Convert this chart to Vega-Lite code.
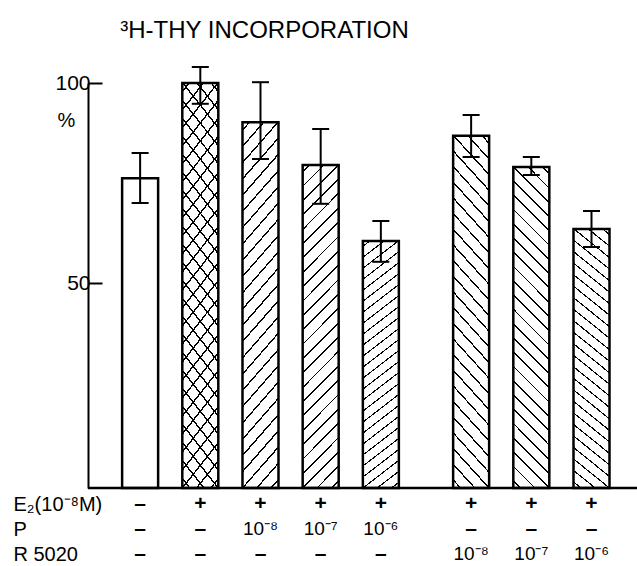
{
  "$schema": "https://vega.github.io/schema/vega-lite/v6.json",
  "width": 549,
  "height": 405,
  "autosize": {"type": "none"},
  "padding": {"left": 88, "top": 83, "right": 0, "bottom": 78},
  "background": "white",
  "config": {"view": {"stroke": null}, "font": "Liberation Sans"},
  "title": {"text": "³H-THY INCORPORATION", "anchor": "middle", "frame": "group", "dx": -98, "offset": 23, "fontSize": 24, "fontWeight": "normal", "font": "Liberation Sans", "color": "black"},
  "data": {"values": [
    {"pos": 0, "val": 76.2, "lo": 70, "hi": 82.5, "treatment": "control", "E2": "–", "P": "–", "R5020": "–"},
    {"pos": 1, "val": 100, "lo": 94.8, "hi": 104, "treatment": "E2", "E2": "+", "P": "–", "R5020": "–"},
    {"pos": 2, "val": 90.2, "lo": 81, "hi": 100.2, "treatment": "E2+P", "E2": "+", "P": "10⁻⁸", "R5020": "–"},
    {"pos": 3, "val": 79.5, "lo": 69.8, "hi": 88.5, "treatment": "E2+P", "E2": "+", "P": "10⁻⁷", "R5020": "–"},
    {"pos": 4, "val": 60.5, "lo": 55.3, "hi": 65.5, "treatment": "E2+P", "E2": "+", "P": "10⁻⁶", "R5020": "–"},
    {"pos": 5.5, "val": 86.8, "lo": 81.5, "hi": 92, "treatment": "E2+R5020", "E2": "+", "P": "–", "R5020": "10⁻⁸"},
    {"pos": 6.5, "val": 79, "lo": 77, "hi": 81.5, "treatment": "E2+R5020", "E2": "+", "P": "–", "R5020": "10⁻⁷"},
    {"pos": 7.5, "val": 63.5, "lo": 59, "hi": 68, "treatment": "E2+R5020", "E2": "+", "P": "–", "R5020": "10⁻⁶"}
  ]},
  "layer": [
    {
      "transform": [{"filter": "datum.treatment === 'E2+P' || datum.treatment === 'E2'"}],
      "mark": {"type": "bar", "width": 36, "strokeWidth": 0, "fill": {"gradient": "linear", "x1": 0, "y1": 0, "x2": 0.1234, "y2": 1.098, "stops": [
        {"offset": 0.017, "color": "rgba(0,0,0,0)"}, {"offset": 0.017, "color": "#000"}, {"offset": 0.022, "color": "#000"}, {"offset": 0.022, "color": "rgba(0,0,0,0)"},
        {"offset": 0.057, "color": "rgba(0,0,0,0)"}, {"offset": 0.057, "color": "#000"}, {"offset": 0.062, "color": "#000"}, {"offset": 0.062, "color": "rgba(0,0,0,0)"},
        {"offset": 0.097, "color": "rgba(0,0,0,0)"}, {"offset": 0.097, "color": "#000"}, {"offset": 0.102, "color": "#000"}, {"offset": 0.102, "color": "rgba(0,0,0,0)"},
        {"offset": 0.137, "color": "rgba(0,0,0,0)"}, {"offset": 0.137, "color": "#000"}, {"offset": 0.142, "color": "#000"}, {"offset": 0.142, "color": "rgba(0,0,0,0)"},
        {"offset": 0.177, "color": "rgba(0,0,0,0)"}, {"offset": 0.177, "color": "#000"}, {"offset": 0.182, "color": "#000"}, {"offset": 0.182, "color": "rgba(0,0,0,0)"},
        {"offset": 0.217, "color": "rgba(0,0,0,0)"}, {"offset": 0.217, "color": "#000"}, {"offset": 0.222, "color": "#000"}, {"offset": 0.222, "color": "rgba(0,0,0,0)"},
        {"offset": 0.257, "color": "rgba(0,0,0,0)"}, {"offset": 0.257, "color": "#000"}, {"offset": 0.262, "color": "#000"}, {"offset": 0.262, "color": "rgba(0,0,0,0)"},
        {"offset": 0.297, "color": "rgba(0,0,0,0)"}, {"offset": 0.297, "color": "#000"}, {"offset": 0.302, "color": "#000"}, {"offset": 0.302, "color": "rgba(0,0,0,0)"},
        {"offset": 0.337, "color": "rgba(0,0,0,0)"}, {"offset": 0.337, "color": "#000"}, {"offset": 0.342, "color": "#000"}, {"offset": 0.342, "color": "rgba(0,0,0,0)"},
        {"offset": 0.377, "color": "rgba(0,0,0,0)"}, {"offset": 0.377, "color": "#000"}, {"offset": 0.382, "color": "#000"}, {"offset": 0.382, "color": "rgba(0,0,0,0)"},
        {"offset": 0.417, "color": "rgba(0,0,0,0)"}, {"offset": 0.417, "color": "#000"}, {"offset": 0.422, "color": "#000"}, {"offset": 0.422, "color": "rgba(0,0,0,0)"},
        {"offset": 0.457, "color": "rgba(0,0,0,0)"}, {"offset": 0.457, "color": "#000"}, {"offset": 0.462, "color": "#000"}, {"offset": 0.462, "color": "rgba(0,0,0,0)"},
        {"offset": 0.497, "color": "rgba(0,0,0,0)"}, {"offset": 0.497, "color": "#000"}, {"offset": 0.502, "color": "#000"}, {"offset": 0.502, "color": "rgba(0,0,0,0)"},
        {"offset": 0.537, "color": "rgba(0,0,0,0)"}, {"offset": 0.537, "color": "#000"}, {"offset": 0.542, "color": "#000"}, {"offset": 0.542, "color": "rgba(0,0,0,0)"},
        {"offset": 0.577, "color": "rgba(0,0,0,0)"}, {"offset": 0.577, "color": "#000"}, {"offset": 0.582, "color": "#000"}, {"offset": 0.582, "color": "rgba(0,0,0,0)"},
        {"offset": 0.617, "color": "rgba(0,0,0,0)"}, {"offset": 0.617, "color": "#000"}, {"offset": 0.622, "color": "#000"}, {"offset": 0.622, "color": "rgba(0,0,0,0)"},
        {"offset": 0.657, "color": "rgba(0,0,0,0)"}, {"offset": 0.657, "color": "#000"}, {"offset": 0.662, "color": "#000"}, {"offset": 0.662, "color": "rgba(0,0,0,0)"},
        {"offset": 0.697, "color": "rgba(0,0,0,0)"}, {"offset": 0.697, "color": "#000"}, {"offset": 0.702, "color": "#000"}, {"offset": 0.702, "color": "rgba(0,0,0,0)"},
        {"offset": 0.737, "color": "rgba(0,0,0,0)"}, {"offset": 0.737, "color": "#000"}, {"offset": 0.742, "color": "#000"}, {"offset": 0.742, "color": "rgba(0,0,0,0)"},
        {"offset": 0.777, "color": "rgba(0,0,0,0)"}, {"offset": 0.777, "color": "#000"}, {"offset": 0.782, "color": "#000"}, {"offset": 0.782, "color": "rgba(0,0,0,0)"},
        {"offset": 0.817, "color": "rgba(0,0,0,0)"}, {"offset": 0.817, "color": "#000"}, {"offset": 0.822, "color": "#000"}, {"offset": 0.822, "color": "rgba(0,0,0,0)"},
        {"offset": 0.857, "color": "rgba(0,0,0,0)"}, {"offset": 0.857, "color": "#000"}, {"offset": 0.862, "color": "#000"}, {"offset": 0.862, "color": "rgba(0,0,0,0)"},
        {"offset": 0.897, "color": "rgba(0,0,0,0)"}, {"offset": 0.897, "color": "#000"}, {"offset": 0.902, "color": "#000"}, {"offset": 0.902, "color": "rgba(0,0,0,0)"},
        {"offset": 0.937, "color": "rgba(0,0,0,0)"}, {"offset": 0.937, "color": "#000"}, {"offset": 0.942, "color": "#000"}, {"offset": 0.942, "color": "rgba(0,0,0,0)"},
        {"offset": 0.977, "color": "rgba(0,0,0,0)"}, {"offset": 0.977, "color": "#000"}, {"offset": 0.982, "color": "#000"}, {"offset": 0.982, "color": "rgba(0,0,0,0)"}
      ]}},
      "encoding": {
        "x": {"field": "pos", "type": "quantitative", "scale": {"domain": [-0.783, 8.173], "nice": false, "zero": false}, "axis": null},
        "y": {"field": "val", "type": "quantitative", "scale": {"domain": [-1.25, 100], "nice": false, "zero": false}, "axis": null},
        "y2": {"datum": -1.25}
      }
    },
    {
      "transform": [{"filter": "datum.treatment === 'E2+R5020' || datum.treatment === 'E2'"}],
      "mark": {"type": "bar", "width": 36, "strokeWidth": 0, "fill": {"gradient": "linear", "x1": 1, "y1": 0, "x2": 0.8766, "y2": 1.098, "stops": [
        {"offset": 0.017, "color": "rgba(0,0,0,0)"}, {"offset": 0.017, "color": "#000"}, {"offset": 0.022, "color": "#000"}, {"offset": 0.022, "color": "rgba(0,0,0,0)"},
        {"offset": 0.057, "color": "rgba(0,0,0,0)"}, {"offset": 0.057, "color": "#000"}, {"offset": 0.062, "color": "#000"}, {"offset": 0.062, "color": "rgba(0,0,0,0)"},
        {"offset": 0.097, "color": "rgba(0,0,0,0)"}, {"offset": 0.097, "color": "#000"}, {"offset": 0.102, "color": "#000"}, {"offset": 0.102, "color": "rgba(0,0,0,0)"},
        {"offset": 0.137, "color": "rgba(0,0,0,0)"}, {"offset": 0.137, "color": "#000"}, {"offset": 0.142, "color": "#000"}, {"offset": 0.142, "color": "rgba(0,0,0,0)"},
        {"offset": 0.177, "color": "rgba(0,0,0,0)"}, {"offset": 0.177, "color": "#000"}, {"offset": 0.182, "color": "#000"}, {"offset": 0.182, "color": "rgba(0,0,0,0)"},
        {"offset": 0.217, "color": "rgba(0,0,0,0)"}, {"offset": 0.217, "color": "#000"}, {"offset": 0.222, "color": "#000"}, {"offset": 0.222, "color": "rgba(0,0,0,0)"},
        {"offset": 0.257, "color": "rgba(0,0,0,0)"}, {"offset": 0.257, "color": "#000"}, {"offset": 0.262, "color": "#000"}, {"offset": 0.262, "color": "rgba(0,0,0,0)"},
        {"offset": 0.297, "color": "rgba(0,0,0,0)"}, {"offset": 0.297, "color": "#000"}, {"offset": 0.302, "color": "#000"}, {"offset": 0.302, "color": "rgba(0,0,0,0)"},
        {"offset": 0.337, "color": "rgba(0,0,0,0)"}, {"offset": 0.337, "color": "#000"}, {"offset": 0.342, "color": "#000"}, {"offset": 0.342, "color": "rgba(0,0,0,0)"},
        {"offset": 0.377, "color": "rgba(0,0,0,0)"}, {"offset": 0.377, "color": "#000"}, {"offset": 0.382, "color": "#000"}, {"offset": 0.382, "color": "rgba(0,0,0,0)"},
        {"offset": 0.417, "color": "rgba(0,0,0,0)"}, {"offset": 0.417, "color": "#000"}, {"offset": 0.422, "color": "#000"}, {"offset": 0.422, "color": "rgba(0,0,0,0)"},
        {"offset": 0.457, "color": "rgba(0,0,0,0)"}, {"offset": 0.457, "color": "#000"}, {"offset": 0.462, "color": "#000"}, {"offset": 0.462, "color": "rgba(0,0,0,0)"},
        {"offset": 0.497, "color": "rgba(0,0,0,0)"}, {"offset": 0.497, "color": "#000"}, {"offset": 0.502, "color": "#000"}, {"offset": 0.502, "color": "rgba(0,0,0,0)"},
        {"offset": 0.537, "color": "rgba(0,0,0,0)"}, {"offset": 0.537, "color": "#000"}, {"offset": 0.542, "color": "#000"}, {"offset": 0.542, "color": "rgba(0,0,0,0)"},
        {"offset": 0.577, "color": "rgba(0,0,0,0)"}, {"offset": 0.577, "color": "#000"}, {"offset": 0.582, "color": "#000"}, {"offset": 0.582, "color": "rgba(0,0,0,0)"},
        {"offset": 0.617, "color": "rgba(0,0,0,0)"}, {"offset": 0.617, "color": "#000"}, {"offset": 0.622, "color": "#000"}, {"offset": 0.622, "color": "rgba(0,0,0,0)"},
        {"offset": 0.657, "color": "rgba(0,0,0,0)"}, {"offset": 0.657, "color": "#000"}, {"offset": 0.662, "color": "#000"}, {"offset": 0.662, "color": "rgba(0,0,0,0)"},
        {"offset": 0.697, "color": "rgba(0,0,0,0)"}, {"offset": 0.697, "color": "#000"}, {"offset": 0.702, "color": "#000"}, {"offset": 0.702, "color": "rgba(0,0,0,0)"},
        {"offset": 0.737, "color": "rgba(0,0,0,0)"}, {"offset": 0.737, "color": "#000"}, {"offset": 0.742, "color": "#000"}, {"offset": 0.742, "color": "rgba(0,0,0,0)"},
        {"offset": 0.777, "color": "rgba(0,0,0,0)"}, {"offset": 0.777, "color": "#000"}, {"offset": 0.782, "color": "#000"}, {"offset": 0.782, "color": "rgba(0,0,0,0)"},
        {"offset": 0.817, "color": "rgba(0,0,0,0)"}, {"offset": 0.817, "color": "#000"}, {"offset": 0.822, "color": "#000"}, {"offset": 0.822, "color": "rgba(0,0,0,0)"},
        {"offset": 0.857, "color": "rgba(0,0,0,0)"}, {"offset": 0.857, "color": "#000"}, {"offset": 0.862, "color": "#000"}, {"offset": 0.862, "color": "rgba(0,0,0,0)"},
        {"offset": 0.897, "color": "rgba(0,0,0,0)"}, {"offset": 0.897, "color": "#000"}, {"offset": 0.902, "color": "#000"}, {"offset": 0.902, "color": "rgba(0,0,0,0)"},
        {"offset": 0.937, "color": "rgba(0,0,0,0)"}, {"offset": 0.937, "color": "#000"}, {"offset": 0.942, "color": "#000"}, {"offset": 0.942, "color": "rgba(0,0,0,0)"},
        {"offset": 0.977, "color": "rgba(0,0,0,0)"}, {"offset": 0.977, "color": "#000"}, {"offset": 0.982, "color": "#000"}, {"offset": 0.982, "color": "rgba(0,0,0,0)"}
      ]}},
      "encoding": {
        "x": {"field": "pos", "type": "quantitative", "scale": {"domain": [-0.783, 8.173], "nice": false, "zero": false}, "axis": null},
        "y": {"field": "val", "type": "quantitative", "scale": {"domain": [-1.25, 100], "nice": false, "zero": false}, "axis": null},
        "y2": {"datum": -1.25}
      }
    },
    {
      "mark": {"type": "bar", "width": 36, "fill": "transparent", "stroke": "black", "strokeWidth": 2.5},
      "encoding": {
        "x": {"field": "pos", "type": "quantitative", "scale": {"domain": [-0.783, 8.173], "nice": false, "zero": false}, "axis": null},
        "y": {"field": "val", "type": "quantitative", "scale": {"domain": [-1.25, 100], "nice": false, "zero": false},
          "axis": {"orient": "right", "offset": -549, "values": [50, 100], "tickSize": 14, "tickWidth": 2, "tickColor": "black", "domainColor": "black", "domainWidth": 2, "labelFontSize": 21, "labelColor": "black", "labelPadding": -12, "labelAlign": "right", "labelFont": "Liberation Sans", "grid": false,
            "title": "%", "titleAngle": 0, "titleX": -22, "titleY": 37, "titleFontSize": 20, "titleFontWeight": "normal", "titleColor": "black", "titleFont": "Liberation Sans", "titleAlign": "center", "titleBaseline": "middle"}},
        "y2": {"datum": -1.25}
      }
    },
    {
      "data": {"values": [{"baseline": -1.25}]},
      "mark": {"type": "rule", "strokeWidth": 2.5, "color": "black"},
      "encoding": {
        "y": {"field": "baseline", "type": "quantitative", "scale": {"domain": [-1.25, 100], "nice": false, "zero": false}, "axis": null}
      }
    },
    {
      "mark": {"type": "rule", "strokeWidth": 2, "color": "black"},
      "encoding": {
        "x": {"field": "pos", "type": "quantitative", "scale": {"domain": [-0.783, 8.173], "nice": false, "zero": false}, "axis": null},
        "y": {"field": "lo", "type": "quantitative", "scale": {"domain": [-1.25, 100], "nice": false, "zero": false}, "axis": null},
        "y2": {"field": "hi"}
      }
    },
    {
      "mark": {"type": "tick", "orient": "horizontal", "size": 17, "thickness": 2, "color": "black", "opacity": 1},
      "encoding": {
        "x": {"field": "pos", "type": "quantitative", "scale": {"domain": [-0.783, 8.173], "nice": false, "zero": false}, "axis": null},
        "y": {"field": "hi", "type": "quantitative", "scale": {"domain": [-1.25, 100], "nice": false, "zero": false}, "axis": null}
      }
    },
    {
      "mark": {"type": "tick", "orient": "horizontal", "size": 17, "thickness": 2, "color": "black", "opacity": 1},
      "encoding": {
        "x": {"field": "pos", "type": "quantitative", "scale": {"domain": [-0.783, 8.173], "nice": false, "zero": false}, "axis": null},
        "y": {"field": "lo", "type": "quantitative", "scale": {"domain": [-1.25, 100], "nice": false, "zero": false}, "axis": null}
      }
    },
    {
      "transform": [{"fold": ["E2", "P", "R5020"], "as": ["row", "txt"]}, {"filter": "datum.txt === '+' || datum.txt === '–'"}],
      "mark": {"type": "text", "fontSize": 21, "fontWeight": "bold", "color": "black", "align": "center", "baseline": "middle", "font": "Liberation Sans"},
      "encoding": {
        "x": {"field": "pos", "type": "quantitative", "scale": {"domain": [-0.783, 8.173], "nice": false, "zero": false}, "axis": null},
        "y": {"field": "row", "type": "nominal", "scale": {"domain": ["E2", "P", "R5020"], "range": [421, 471], "padding": 0},
          "axis": {"orient": "left", "domain": false, "ticks": false, "grid": false, "title": null, "labelAlign": "left", "labelBaseline": "middle", "labelPadding": 75, "labelFontSize": 20, "labelColor": "black", "labelFont": "Liberation Sans",
            "labelExpr": "datum.value == 'E2' ? 'E₂(10⁻⁸M)' : (datum.value == 'R5020' ? 'R 5020' : datum.value)"}},
        "text": {"field": "txt", "type": "nominal"}
      }
    },
    {
      "transform": [{"fold": ["E2", "P", "R5020"], "as": ["row", "txt"]}, {"filter": "datum.txt !== '+' && datum.txt !== '–'"}],
      "mark": {"type": "text", "fontSize": 19, "color": "black", "align": "center", "baseline": "middle", "font": "Liberation Sans"},
      "encoding": {
        "x": {"field": "pos", "type": "quantitative", "scale": {"domain": [-0.783, 8.173], "nice": false, "zero": false}, "axis": null},
        "y": {"field": "row", "type": "nominal", "scale": {"domain": ["E2", "P", "R5020"], "range": [421, 471], "padding": 0}, "axis": null},
        "text": {"field": "txt", "type": "nominal"}
      }
    }
  ],
  "resolve": {"scale": {"y": "independent"}, "axis": {"y": "independent"}}
}
